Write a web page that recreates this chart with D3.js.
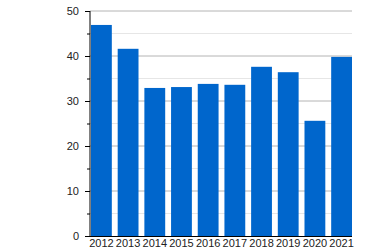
<!DOCTYPE html>
<html>
<head>
<meta charset="utf-8">
<script src="https://cdn.jsdelivr.net/npm/d3@7"></script>
<style>
  body { margin: 0; background: #fff; }
  svg { display: block; font-family: "Liberation Sans", Arial, sans-serif; }
</style>
</head>
<body>
<svg id="chart"></svg>
<script>
const years = ["2012", "2013", "2014", "2015", "2016", "2017", "2018", "2019", "2020", "2021"];
const values = [46.9, 41.6, 32.9, 33.1, 33.8, 33.6, 37.6, 36.4, 25.6, 39.8];
const majorTicks = [0, 10, 20, 30, 40, 50];
const minorTicks = [5, 15, 25, 35, 45];

const width = 366, height = 250;
const margin = { top: 11, right: 14, bottom: 14, left: 90 };
const innerW = width - margin.left - margin.right;
const innerH = height - margin.top - margin.bottom;

const svg = d3.select("#chart").attr("width", width).attr("height", height);
const g = svg.append("g").attr("transform", `translate(${margin.left},${margin.top})`);

const x = d3.scaleBand().domain(years).range([1, innerW]).paddingInner(0.22).paddingOuter(0);
const y = d3.scaleLinear().domain([0, 50]).range([innerH, 0]);

// minor gridlines
g.selectAll(".minor-grid")
  .data(minorTicks)
  .enter().append("line")
  .attr("x1", 0).attr("x2", innerW)
  .attr("y1", d => y(d)).attr("y2", d => y(d))
  .attr("stroke", "#e6e6e6");

// major gridlines
g.selectAll(".major-grid")
  .data(majorTicks.filter(d => d > 0))
  .enter().append("line")
  .attr("x1", 0).attr("x2", innerW)
  .attr("y1", d => y(d)).attr("y2", d => y(d))
  .attr("stroke", "#b4b4b4");

// bars
g.selectAll(".bar")
  .data(values)
  .enter().append("rect")
  .attr("x", (d, i) => x(years[i]))
  .attr("y", d => y(d))
  .attr("width", x.bandwidth())
  .attr("height", d => innerH - y(d))
  .attr("fill", "#0066cc");

// y axis
const yAxis = g.append("g")
  .call(d3.axisLeft(y).tickValues(majorTicks).tickSize(5).tickPadding(6));
yAxis.select(".domain").attr("d", `M0,${innerH}V0`).attr("stroke", "#000");
yAxis.selectAll("text").attr("font-size", 11).attr("fill", "#222");

g.append("g")
  .call(d3.axisLeft(y).tickValues(minorTicks).tickSize(3).tickFormat(""))
  .call(s => s.select(".domain").remove());

// x axis
const xAxis = g.append("g")
  .attr("transform", `translate(0,${innerH})`)
  .call(d3.axisBottom(x).tickSize(0).tickPadding(3));
xAxis.select(".domain").attr("d", `M-5,0.5H${innerW}`).attr("stroke", "#000");
xAxis.selectAll("text").attr("font-size", 11).attr("fill", "#222");
</script>
</body>
</html>
